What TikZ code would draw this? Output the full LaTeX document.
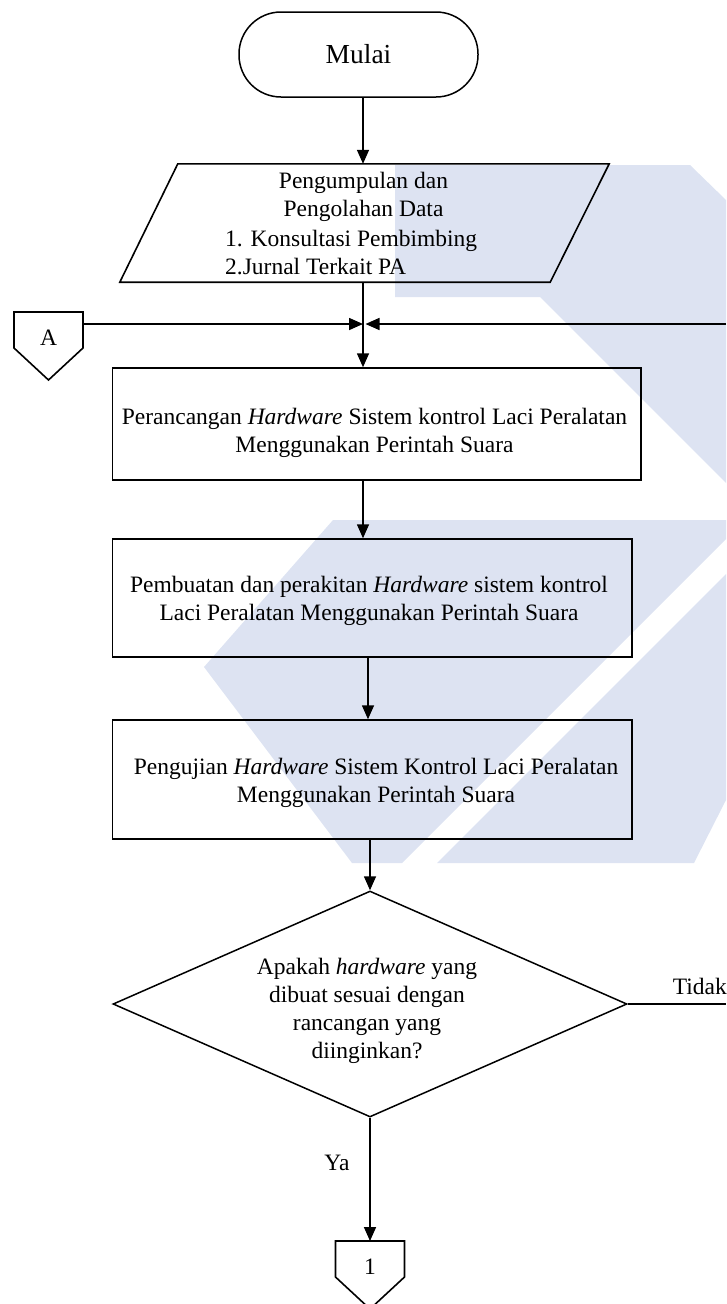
\documentclass[tikz,border=0pt]{standalone}
\usepackage{fontspec}
\setmainfont{Liberation Serif}
\usetikzlibrary{shapes.geometric,arrows.meta,calc}
\definecolor{wm}{RGB}{221,227,242}
\begin{document}
\begin{tikzpicture}[x=1pt,y=-1pt,
  txt/.style={font=\fontsize{23.5}{28}\selectfont},
  line/.style={line width=1.6pt},
  arr/.style={line,-{Triangle[width=12pt,length=14pt]}},
  procbox/.style={draw,line width=1.5pt,rectangle,inner sep=0pt},
  boxtext/.style={txt,inner sep=0pt,align=center},
  offpg/.style={txt,inner sep=0pt}]
\useasboundingbox (0,0) rectangle (726,1304);

% light background emblem
\fill[wm] (395,165) -- (690,165) -- (726,200) -- (726,483) -- (540,297) -- (395,297) -- cycle;
\fill[wm] (333,520) -- (726,520) -- (726,539) -- (402,863) -- (352,863) -- (204,667) -- cycle;
\fill[wm] (726,574) -- (726,800) -- (694,863) -- (437,863) -- cycle;

% start
\node[draw,line width=1.5pt,rectangle,rounded corners=42pt,minimum width=239pt,minimum height=85pt,
  font=\fontsize{27.5}{30}\selectfont] (mulai) at (358.5,54.5) {Mulai};

% junction point of the three flows
\coordinate (j) at (363,324);
\coordinate (rin) at (726,324);

% data input (parallelogram)
\node[rectangle,minimum width=489pt,minimum height=118pt,inner sep=0pt] (para) at (364.5,223) {};
\draw[line] ($(para.north west)+(58,0)$) -- (para.north east) -- ($(para.south east)+(-59,0)$)
  -- (para.south west) -- cycle;
\node[boxtext] (paratxt) at (363.5,196.5) {Pengumpulan dan\\ Pengolahan Data};
\node[txt,inner sep=0pt,align=left,anchor=west] (paralist) at (225,252.5)
  {1. Konsultasi Pembimbing\\ 2.Jurnal Terkait PA};

% process boxes
\node[procbox,minimum width=528.5pt,minimum height=112pt] (r1) at (376.75,424) {};
\node[boxtext] (r1t) at (374.5,433)
  {Perancangan \textit{Hardware} Sistem kontrol Laci Peralatan\\ Menggunakan Perintah Suara};
\node[procbox,minimum width=519.5pt,minimum height=118pt] (r2) at (372.25,598) {};
\node[boxtext] (r2t) at (369,601)
  {Pembuatan dan perakitan \textit{Hardware} sistem kontrol\\ Laci Peralatan Menggunakan Perintah Suara};
\node[procbox,minimum width=519.5pt,minimum height=119pt] (r3) at (372.25,779.5) {};
\node[boxtext] (r3t) at (376,783)
  {Pengujian \textit{Hardware} Sistem Kontrol Laci Peralatan\\ Menggunakan Perintah Suara};

% decision
\node[draw,line width=1.5pt,diamond,aspect=2.274,inner sep=0pt,minimum width=514pt,minimum height=226pt]
  (dec) at (370,1004) {};
\node[boxtext] (dect) at (367,1011)
  {Apakah \textit{hardware} yang\\ dibuat sesuai dengan\\ rancangan yang\\ diinginkan?};

% off-page connectors
\node[offpg] (A) at (48.5,338) {A};
\draw[line] ($(A)+(-34.5,-26)$) -- ($(A)+(34.5,-26)$) -- ($(A)+(34.5,10)$) -- ($(A)+(0,42)$)
  -- ($(A)+(-34.5,10)$) -- cycle;
\node[offpg] (one) at (370,1267) {1};
\draw[line] ($(one)+(-34.5,-26)$) -- ($(one)+(34.5,-26)$) -- ($(one)+(34.5,10)$) -- ($(one)+(0,42)$)
  -- ($(one)+(-34.5,10)$) -- cycle;

% connectors
\draw[arr] (mulai.south -| j) -- (para.north -| j);
\draw[line] (para.south -| j) -- (j);
\draw[arr] (j) -- (r1.north -| j);
\draw[arr] ($(A)+(34.5,-14)$) -- (j);
\draw[arr] (rin) -- ($(j)+(2.5,0)$);
\draw[arr] (r1.south -| j) -- (r2.north -| j);
\draw[arr] ($(r2.south)+(-4.25,0)$) -- ($(r3.north)+(-4.25,0)$);
\draw[arr] (r3.south -| dec.north) -- (dec.north);
\draw[arr] (dec.south) -- ($(one)+(0,-26)$);
\coordinate (tout) at (726,1004);
\draw[line] (dec.east) -- (tout);

% branch labels
\node[txt,anchor=base east,inner sep=0pt] (tidak) at (727,994) {Tidak};
\node[txt,inner sep=0pt] (ya) at (337,1163) {Ya};
\end{tikzpicture}
\end{document}
